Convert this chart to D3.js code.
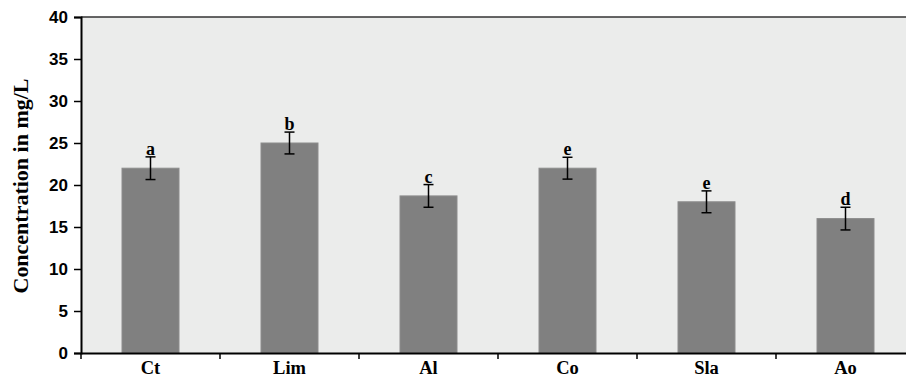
<!DOCTYPE html>
<html><head><meta charset="utf-8">
<script src="https://cdn.jsdelivr.net/npm/d3@7"></script>
<style>body{margin:0;background:#fff}svg{display:block}</style>
</head><body>
<script>
const categories = ["Ct","Lim","Al","Co","Sla","Ao"];
const values = [22, 25, 18.7, 22, 18, 16];
const errors = [1.35, 1.3, 1.35, 1.3, 1.3, 1.35];
const letters = ["a","b","c","e","e","d"];
const yTicks = [0,5,10,15,20,25,30,35,40];

const W = 906, H = 378;
const m = {left: 81, top: 17, right: -9, bottom: 25};
const svg = d3.select("body").append("svg").attr("width", W).attr("height", H);
const x = d3.scaleBand().domain(categories).range([m.left, W - m.right]).paddingInner(0).paddingOuter(0);
const y = d3.scaleLinear().domain([0, 40]).range([H - m.bottom, m.top]);

svg.append("rect").attr("x", m.left).attr("y", m.top).attr("width", W - m.right - m.left)
  .attr("height", y(0) - m.top).attr("fill", "#ebeceb");
svg.append("line").attr("x1", m.left).attr("x2", W).attr("y1", m.top).attr("y2", m.top)
  .attr("stroke", "#333").attr("stroke-width", 1.5);

const bw = x.bandwidth() * 0.41;
svg.append("g").selectAll("rect").data(categories).join("rect")
  .attr("x", d => x(d) + x.bandwidth()/2 - bw/2)
  .attr("y", (d,i) => y(values[i]))
  .attr("width", bw)
  .attr("height", (d,i) => y(0) - y(values[i]))
  .attr("fill", "#808080").attr("stroke", "#8c8c8c").attr("stroke-width", 1);

const eb = svg.append("g").attr("stroke", "#000").attr("stroke-width", 1.5);
categories.forEach((c,i) => {
  const cx = x(c) + x.bandwidth()/2;
  const t = y(values[i] + errors[i]), b = y(values[i] - errors[i]);
  eb.append("line").attr("x1", cx).attr("x2", cx).attr("y1", t).attr("y2", b);
  eb.append("line").attr("x1", cx-5).attr("x2", cx+5).attr("y1", t).attr("y2", t);
  eb.append("line").attr("x1", cx-5).attr("x2", cx+5).attr("y1", b).attr("y2", b);
  svg.append("text").attr("x", cx).attr("y", t - 2).attr("text-anchor", "middle")
    .attr("font-family", "Liberation Serif, DejaVu Serif, serif").attr("font-weight", "bold")
    .attr("font-size", 18).text(letters[i]);
});

const yAxis = svg.append("g").attr("transform", `translate(${m.left},0)`)
  .call(d3.axisLeft(y).tickValues(yTicks).tickSize(7).tickPadding(6));
yAxis.select(".domain").attr("stroke", "#000").attr("stroke-width", 2);
yAxis.selectAll(".tick line").attr("stroke", "#000").attr("stroke-width", 1.5);
yAxis.selectAll(".tick text").attr("font-family", "Liberation Sans, Arial, sans-serif")
  .attr("font-weight", "bold").attr("font-size", 17).attr("fill", "#000");

const xAxis = svg.append("g").attr("transform", `translate(0,${y(0)})`)
  .call(d3.axisBottom(x).tickSize(0).tickPadding(8));
xAxis.select(".domain").attr("stroke", "#000").attr("stroke-width", 2);
xAxis.selectAll(".tick text").attr("font-family", "Liberation Serif, DejaVu Serif, serif")
  .attr("font-weight", "bold").attr("font-size", 18.5).attr("fill", "#000");
const bounds = categories.map(c => x(c)).concat([x(categories[categories.length-1]) + x.bandwidth()]);
xAxis.selectAll("line.sep").data(bounds).join("line").attr("class", "sep")
  .attr("x1", d => d).attr("x2", d => d).attr("y1", 0).attr("y2", 6)
  .attr("stroke", "#000").attr("stroke-width", 1.5);

svg.append("text").attr("transform", `translate(28,186) rotate(-90)`)
  .attr("text-anchor", "middle").attr("font-family", "Liberation Serif, DejaVu Serif, serif")
  .attr("font-weight", "bold").attr("font-size", 20)
  .attr("textLength", 215).attr("lengthAdjust", "spacingAndGlyphs")
  .text("Concentration in mg/L");
</script>
</body></html>
